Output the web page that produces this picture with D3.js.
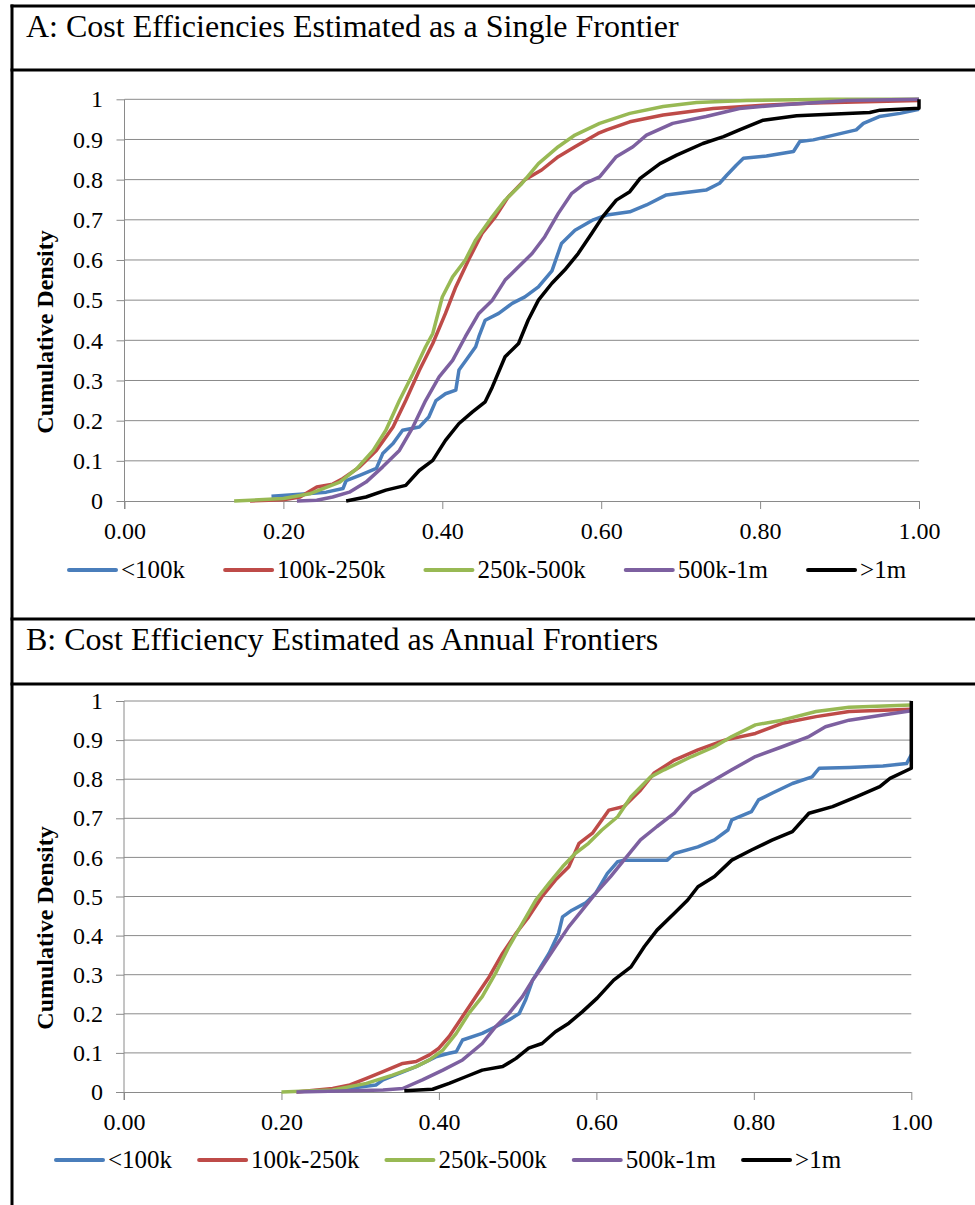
<!DOCTYPE html>
<html><head><meta charset="utf-8">
<script src="https://cdn.jsdelivr.net/npm/d3@7"></script>
<style>
html,body{margin:0;padding:0;background:#fff;}
svg{display:block;font-family:"Liberation Serif","Times New Roman",serif;}
</style>
</head><body>
<svg id="c" width="975" height="1205"></svg>
<script>
// ---------- data ----------
const seriesNames = ["<100k", "100k-250k", "250k-500k", "500k-1m", ">1m"];
const seriesColors = ["#4a7ebb", "#be4b48", "#98b954", "#7d60a0", "#000000"];
const panelTitles = ["A: Cost Efficiencies Estimated as a Single Frontier",
                     "B: Cost Efficiency Estimated as Annual Frontiers"];
const yAxisTitle = "Cumulative Density";
const xTickValues = [0, 0.2, 0.4, 0.6, 0.8, 1.0];
const xTickLabels = ["0.00", "0.20", "0.40", "0.60", "0.80", "1.00"];
const yTickValues = [0, 0.1, 0.2, 0.3, 0.4, 0.5, 0.6, 0.7, 0.8, 0.9, 1.0];
const yTickLabels = ["0", "0.1", "0.2", "0.3", "0.4", "0.5", "0.6", "0.7", "0.8", "0.9", "1"];

// Panel A: single frontier  [efficiency, cumulative density]
const aLt100k = [[0.185,0.012],[0.221,0.017],[0.254,0.022],[0.275,0.031],[0.279,0.051],[0.296,0.064],[0.317,0.081],[0.325,0.118],[0.338,0.143],[0.350,0.176],[0.371,0.184],[0.383,0.209],[0.392,0.250],[0.404,0.267],[0.417,0.276],[0.421,0.326],[0.433,0.359],[0.442,0.384],[0.446,0.409],[0.454,0.450],[0.471,0.467],[0.488,0.492],[0.504,0.508],[0.521,0.533],[0.538,0.573],[0.550,0.641],[0.567,0.674],[0.590,0.700],[0.607,0.712],[0.636,0.720],[0.657,0.737],[0.682,0.762],[0.699,0.766],[0.732,0.774],[0.749,0.791],[0.758,0.811],[0.770,0.836],[0.779,0.853],[0.808,0.859],[0.842,0.870],[0.850,0.895],[0.867,0.899],[0.921,0.924],[0.930,0.940],[0.950,0.957],[0.976,0.965],[1.000,0.975]];
const a100k250k = [[0.158,0],[0.200,0.003],[0.221,0.010],[0.242,0.035],[0.262,0.042],[0.275,0.056],[0.296,0.085],[0.317,0.126],[0.338,0.184],[0.354,0.250],[0.371,0.325],[0.388,0.392],[0.404,0.467],[0.417,0.533],[0.433,0.600],[0.450,0.666],[0.467,0.708],[0.483,0.757],[0.504,0.800],[0.525,0.824],[0.546,0.857],[0.567,0.882],[0.596,0.915],[0.607,0.924],[0.636,0.944],[0.678,0.961],[0.741,0.977],[0.804,0.985],[0.867,0.991],[1.000,0.997]];
const a250k500k = [[0.138,0],[0.200,0.006],[0.233,0.018],[0.271,0.047],[0.292,0.080],[0.313,0.126],[0.329,0.176],[0.346,0.250],[0.363,0.317],[0.379,0.384],[0.388,0.417],[0.400,0.508],[0.413,0.558],[0.429,0.600],[0.442,0.650],[0.463,0.708],[0.479,0.749],[0.500,0.790],[0.521,0.840],[0.546,0.882],[0.567,0.911],[0.598,0.940],[0.636,0.965],[0.678,0.982],[0.720,0.992],[0.783,0.997],[0.888,1.000],[1.000,1.000]];
const a500k1m = [[0.217,0],[0.242,0.002],[0.262,0.010],[0.283,0.022],[0.304,0.047],[0.325,0.085],[0.346,0.126],[0.363,0.184],[0.379,0.250],[0.396,0.309],[0.413,0.350],[0.429,0.409],[0.446,0.467],[0.463,0.500],[0.479,0.550],[0.496,0.583],[0.513,0.616],[0.529,0.658],[0.546,0.716],[0.563,0.766],[0.579,0.790],[0.598,0.807],[0.619,0.857],[0.640,0.882],[0.657,0.911],[0.690,0.940],[0.732,0.957],[0.774,0.977],[0.825,0.986],[0.909,0.997],[1.000,1.000]];
const aGt1m = [[0.279,0],[0.304,0.010],[0.329,0.027],[0.354,0.039],[0.371,0.076],[0.388,0.101],[0.404,0.151],[0.421,0.193],[0.438,0.222],[0.454,0.247],[0.463,0.284],[0.479,0.359],[0.496,0.392],[0.508,0.450],[0.521,0.500],[0.538,0.542],[0.554,0.575],[0.571,0.616],[0.588,0.666],[0.602,0.708],[0.619,0.749],[0.636,0.770],[0.649,0.803],[0.674,0.840],[0.695,0.861],[0.728,0.890],[0.754,0.907],[0.774,0.924],[0.804,0.948],[0.846,0.959],[0.888,0.963],[0.938,0.967],[0.951,0.973],[1.000,0.978],[1.000,1.000]];

// Panel B: annual frontiers
const bLt100k = [[0.255,0.003],[0.270,0.005],[0.320,0.018],[0.329,0.031],[0.371,0.065],[0.396,0.090],[0.413,0.099],[0.422,0.103],[0.430,0.133],[0.455,0.150],[0.472,0.167],[0.489,0.184],[0.502,0.201],[0.510,0.235],[0.519,0.286],[0.527,0.312],[0.540,0.355],[0.552,0.406],[0.557,0.448],[0.569,0.465],[0.586,0.483],[0.599,0.508],[0.614,0.559],[0.618,0.568],[0.627,0.589],[0.635,0.593],[0.665,0.593],[0.690,0.593],[0.699,0.610],[0.729,0.627],[0.750,0.645],[0.767,0.670],[0.772,0.696],[0.797,0.717],[0.806,0.747],[0.823,0.764],[0.849,0.789],[0.874,0.806],[0.883,0.828],[0.921,0.830],[0.964,0.834],[0.994,0.840],[1.000,0.862]];
const b100k250k = [[0.219,0],[0.265,0.009],[0.287,0.018],[0.308,0.035],[0.329,0.052],[0.354,0.073],[0.371,0.078],[0.388,0.095],[0.400,0.112],[0.413,0.142],[0.430,0.193],[0.447,0.244],[0.464,0.295],[0.481,0.355],[0.498,0.406],[0.514,0.448],[0.531,0.500],[0.548,0.542],[0.565,0.576],[0.578,0.636],[0.595,0.662],[0.616,0.721],[0.635,0.730],[0.656,0.772],[0.673,0.815],[0.699,0.849],[0.729,0.875],[0.763,0.900],[0.802,0.917],[0.836,0.943],[0.879,0.960],[0.921,0.973],[1.000,0.979]];
const b250k500k = [[0.200,0],[0.265,0.005],[0.308,0.022],[0.341,0.043],[0.371,0.065],[0.388,0.082],[0.405,0.107],[0.422,0.150],[0.438,0.201],[0.455,0.244],[0.472,0.304],[0.489,0.372],[0.506,0.431],[0.523,0.491],[0.540,0.534],[0.557,0.576],[0.573,0.610],[0.590,0.636],[0.607,0.670],[0.627,0.704],[0.644,0.755],[0.669,0.806],[0.686,0.824],[0.721,0.858],[0.750,0.883],[0.772,0.909],[0.802,0.939],[0.836,0.951],[0.879,0.973],[0.921,0.984],[1.000,0.990]];
const b500k1m = [[0.219,0],[0.287,0.003],[0.329,0.005],[0.354,0.009],[0.379,0.031],[0.405,0.056],[0.430,0.082],[0.455,0.124],[0.472,0.167],[0.489,0.201],[0.506,0.244],[0.519,0.286],[0.531,0.320],[0.548,0.372],[0.565,0.423],[0.582,0.465],[0.599,0.508],[0.618,0.551],[0.635,0.593],[0.656,0.645],[0.677,0.679],[0.699,0.713],[0.721,0.764],[0.742,0.789],[0.772,0.824],[0.802,0.858],[0.836,0.883],[0.870,0.909],[0.891,0.934],[0.921,0.951],[0.964,0.964],[1.000,0.975]];
const bGt1m = [[0.356,0.003],[0.392,0.007],[0.413,0.022],[0.434,0.039],[0.455,0.056],[0.481,0.065],[0.498,0.086],[0.514,0.112],[0.531,0.124],[0.548,0.154],[0.565,0.176],[0.582,0.205],[0.601,0.240],[0.622,0.286],[0.644,0.320],[0.661,0.372],[0.677,0.414],[0.699,0.457],[0.716,0.491],[0.729,0.525],[0.750,0.551],[0.772,0.593],[0.797,0.619],[0.823,0.644],[0.849,0.666],[0.870,0.713],[0.900,0.730],[0.930,0.755],[0.960,0.781],[0.973,0.802],[1.000,0.828],[1.000,1.000]];

const panelASeries = [aLt100k, a100k250k, a250k500k, a500k1m, aGt1m];
const panelBSeries = [bLt100k, b100k250k, b250k500k, b500k1m, bGt1m];

// ---------- drawing ----------
const FONT = '"Liberation Serif","Times New Roman",serif';
const svg = d3.select("#c");
const GRID = "#8a8a8a";

// frame lines
const frame = svg.append("g").attr("stroke", "#000").attr("stroke-width", 3);
[6, 70, 619, 684].forEach(y => frame.append("line").attr("x1", 10.5).attr("x2", 975).attr("y1", y).attr("y2", y));
frame.append("line").attr("x1", 12).attr("x2", 12).attr("y1", 4.5).attr("y2", 1205);

function drawPanel(cfg) {
  const g = svg.append("g").attr("font-family", FONT);
  g.append("text").attr("x", 26).attr("y", cfg.titleY).attr("font-family", FONT)
    .attr("font-size", 32).attr("fill", "#000").text(cfg.title);

  const x = d3.scaleLinear().domain([0, 1]).range([cfg.left, cfg.right]);
  const y = d3.scaleLinear().domain([0, 1]).range([cfg.bottom, cfg.top]);

  // gridlines
  g.append("g").selectAll("line").data(yTickValues.slice(1)).join("line")
    .attr("x1", cfg.left).attr("x2", cfg.right)
    .attr("y1", d => y(d)).attr("y2", d => y(d))
    .attr("stroke", GRID).attr("stroke-width", 1);

  const ya = g.append("g").attr("transform", `translate(${cfg.left},0)`)
    .call(d3.axisLeft(y).tickValues(yTickValues).tickFormat((d, i) => yTickLabels[i])
      .tickSize(8).tickSizeOuter(0).tickPadding(cfg.left - 103 - 8));
  const xa = g.append("g").attr("transform", `translate(0,${cfg.bottom})`)
    .call(d3.axisBottom(x).tickValues(xTickValues).tickFormat((d, i) => xTickLabels[i])
      .tickSize(8).tickSizeOuter(0).tickPadding(13));
  [ya, xa].forEach(a => {
    a.attr("font-family", FONT);
    a.selectAll("path,line").attr("stroke", GRID).attr("stroke-width", 1);
    a.selectAll("text").attr("font-size", 24).attr("fill", "#000").attr("font-family", FONT);
  });
  ya.select(".domain").attr("d", `M0,${cfg.top}V${cfg.bottom + 8}`);

  g.append("text")
    .attr("transform", `translate(53,${cfg.yTitleCY}) rotate(-90)`)
    .attr("text-anchor", "middle").attr("font-size", 24).attr("font-weight", "bold")
    .attr("font-family", FONT).attr("fill", "#000").text(yAxisTitle);

  const line = d3.line().x(d => x(d[0])).y(d => y(d[1]));
  cfg.series.forEach((s, i) => {
    g.append("path").attr("d", line(s)).attr("fill", "none")
      .attr("stroke", seriesColors[i]).attr("stroke-width", 3.5)
      .attr("stroke-linejoin", "round").attr("stroke-linecap", "butt");
  });

  // legend
  const lg = g.append("g");
  let cx = cfg.legendX;
  seriesNames.forEach((name, i) => {
    lg.append("line").attr("x1", cx + 2).attr("x2", cx + 49)
      .attr("y1", cfg.legendY).attr("y2", cfg.legendY)
      .attr("stroke", seriesColors[i]).attr("stroke-width", 4).attr("stroke-linecap", "round");
    const t = lg.append("text").attr("x", cx + 54).attr("y", cfg.legendY + 8)
      .attr("font-size", 25).attr("font-family", FONT).attr("fill", "#000").text(name);
    cx = cx + 54 + t.node().getComputedTextLength() + cfg.legendGap;
  });
}

drawPanel({title: panelTitles[0], titleY: 37, left: 124.5, right: 919, top: 99.3, bottom: 501,
  yTitleCY: 332, series: panelASeries, legendX: 67, legendY: 570, legendGap: 38});
drawPanel({title: panelTitles[1], titleY: 650, left: 124, right: 911.3, top: 701, bottom: 1092,
  yTitleCY: 928, series: panelBSeries, legendX: 54, legendY: 1160, legendGap: 25});
</script>
</body></html>
